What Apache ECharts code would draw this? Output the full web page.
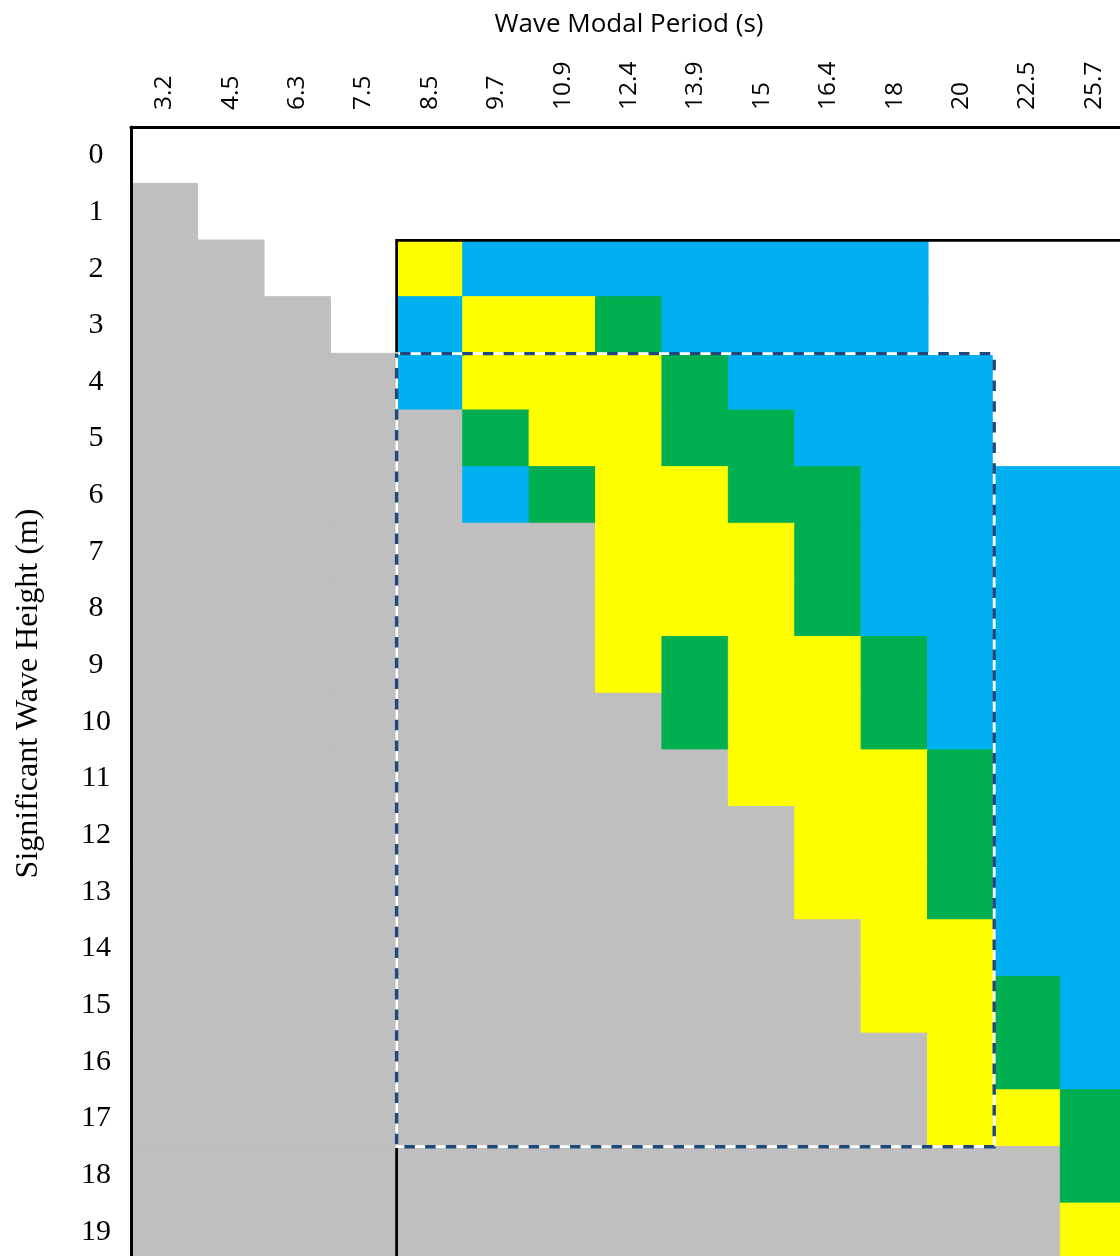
<!DOCTYPE html>
<html>
<head>
<meta charset="utf-8">
<script src="https://cdn.jsdelivr.net/npm/echarts@6/dist/echarts.min.js"></script>
<style>
html,body{margin:0;padding:0;background:#fff;overflow:hidden}
#c{width:1120px;height:1256px}
</style>
</head>
<body>
<div id="c"></div>
<script>
// Wave modal period categories (x) and significant wave height categories (y)
const periods = ['3.2','4.5','6.3','7.5','8.5','9.7','10.9','12.4','13.9','15','16.4','18','20','22.5','25.7'];
const heights = ['0','1','2','3','4','5','6','7','8','9','10','11','12','13','14','15','16','17','18','19'];

// Cell classes: W = empty, G = grey, Y = yellow, B = blue, N = green
const cellRows = [
  ['W','W','W','W','W','W','W','W','W','W','W','W','W','W','W'],
  ['G','W','W','W','W','W','W','W','W','W','W','W','W','W','W'],
  ['G','G','W','W','Y','B','B','B','B','B','B','B','W','W','W'],
  ['G','G','G','W','B','Y','Y','N','B','B','B','B','W','W','W'],
  ['G','G','G','G','B','Y','Y','Y','N','B','B','B','B','W','W'],
  ['G','G','G','G','G','N','Y','Y','N','N','B','B','B','W','W'],
  ['G','G','G','G','G','B','N','Y','Y','N','N','B','B','B','B'],
  ['G','G','G','G','G','G','G','Y','Y','Y','N','B','B','B','B'],
  ['G','G','G','G','G','G','G','Y','Y','Y','N','B','B','B','B'],
  ['G','G','G','G','G','G','G','Y','N','Y','Y','N','B','B','B'],
  ['G','G','G','G','G','G','G','G','N','Y','Y','N','B','B','B'],
  ['G','G','G','G','G','G','G','G','G','Y','Y','Y','N','B','B'],
  ['G','G','G','G','G','G','G','G','G','G','Y','Y','N','B','B'],
  ['G','G','G','G','G','G','G','G','G','G','Y','Y','N','B','B'],
  ['G','G','G','G','G','G','G','G','G','G','G','Y','Y','B','B'],
  ['G','G','G','G','G','G','G','G','G','G','G','Y','Y','N','B'],
  ['G','G','G','G','G','G','G','G','G','G','G','G','Y','N','B'],
  ['G','G','G','G','G','G','G','G','G','G','G','G','Y','Y','N'],
  ['G','G','G','G','G','G','G','G','G','G','G','G','G','G','N'],
  ['G','G','G','G','G','G','G','G','G','G','G','G','G','G','Y']
];
const classColors = { G: '#BFBFBF', Y: '#FFFF00', B: '#00B0F0', N: '#00B050' };

// Outlined regions: [firstCol, firstRow, endCol(exclusive), endRow(exclusive)]
const solidBoxes = [[4, 2, 15, 20]];
const dashedBoxes = [[4, 4, 13, 18]];

const cells = [];
cellRows.forEach(function (row, r) {
  row.forEach(function (k, c) {
    if (k === 'W') return;
    const col = classColors[k];
    cells.push({ value: [c, r, 1], itemStyle: { color: col, borderColor: col, borderWidth: 1 } });
  });
});

function boxRect(api) {
  const x0 = api.value(0), y0 = api.value(1), x1 = api.value(2), y1 = api.value(3);
  const s = api.size([1, 1]);
  const p0 = api.coord([x0, y0]);
  const p1 = api.coord([x1 - 1, y1 - 1]);
  return {
    x: p0[0] - s[0] / 2,
    y: p0[1] - s[1] / 2,
    width: p1[0] - p0[0] + s[0],
    height: p1[1] - p0[1] + s[1]
  };
}

const chart = echarts.init(document.getElementById('c'), null, { renderer: 'canvas' });
chart.setOption({
  animation: false,
  backgroundColor: '#ffffff',
  grid: { left: 131, top: 127, width: 996, height: 1133, containLabel: false, outerBoundsMode: 'none' },
  xAxis: {
    type: 'category',
    position: 'top',
    data: periods,
    z: 10,
    axisLine: { show: true, lineStyle: { color: '#000', width: 3 } },
    axisTick: { show: false },
    splitLine: { show: false },
    axisLabel: { rotate: -90, margin: 17, fontFamily: 'Open Sans', fontSize: 24.5, color: '#000', interval: 0 },
    name: 'Wave Modal Period (s)',
    nameLocation: 'middle',
    nameGap: 89,
    nameTextStyle: { fontFamily: 'Open Sans', fontSize: 26, color: '#000' }
  },
  yAxis: {
    type: 'category',
    inverse: true,
    data: heights,
    z: 10,
    axisLine: { show: true, lineStyle: { color: '#000', width: 3 } },
    axisTick: { show: false },
    splitLine: { show: false },
    axisLabel: { align: 'center', margin: 35, fontFamily: 'Liberation Serif', fontSize: 30, color: '#000', interval: 0 },
    name: 'Significant Wave Height (m)',
    nameLocation: 'middle',
    nameRotate: 90,
    nameGap: 86,
    nameTextStyle: { fontFamily: 'Liberation Serif', fontSize: 32, color: '#000' }
  },
  series: [
    {
      type: 'heatmap',
      data: cells,
      z: 2,
      emphasis: { disabled: true },
      label: { show: false }
    },
    {
      type: 'custom',
      z: 3,
      silent: true,
      data: solidBoxes,
      renderItem: function (params, api) {
        return {
          type: 'rect',
          shape: boxRect(api),
          style: { fill: null, stroke: '#000', lineWidth: 2.7 }
        };
      }
    },
    {
      type: 'custom',
      z: 4,
      silent: true,
      data: dashedBoxes,
      renderItem: function (params, api) {
        const r = boxRect(api);
        return {
          type: 'group',
          children: [
            { type: 'rect', shape: r, style: { fill: null, stroke: '#ffffff', lineWidth: 2.8 } },
            { type: 'rect', shape: r, style: { fill: null, stroke: '#1F497D', lineWidth: 3.4, lineDash: [10.5, 10.2], lineDashOffset: -3.5 } }
          ]
        };
      }
    }
  ]
});
</script>
</body>
</html>
